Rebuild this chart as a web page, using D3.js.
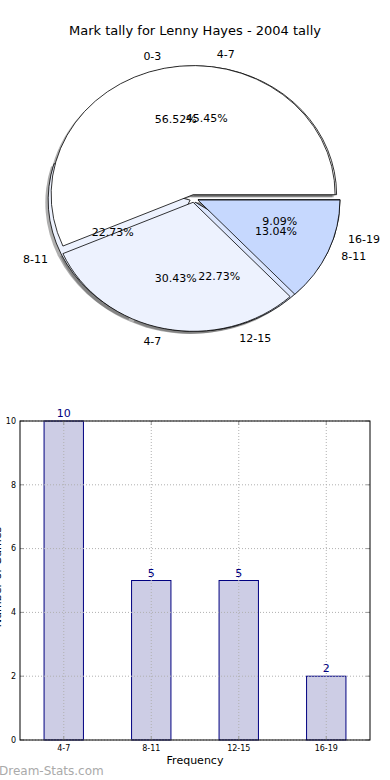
<!DOCTYPE html>
<html>
<head>
  <meta charset="utf-8">
  <title>Mark tally for Lenny Hayes - 2004 tally</title>
  <style>
    body { margin: 0; background: #fff; }
    svg { display: block; font-family: "DejaVu Sans", sans-serif; }
  </style>
</head>
<body>
  <svg width="390" height="780"></svg>

  <script src="https://d3js.org/d3.v7.min.js"></script>
  <script>
    // pie 1 (drawn on top)
    var pieALabels = ['0-3', '4-7', '8-11'];
    var pieAValues = [13, 7, 3];
    // pie 2 (underneath)
    var pieBLabels = ['4-7', '8-11', '12-15', '16-19'];
    var pieBValues = [10, 5, 5, 2];

    // bar chart
    var barCategories = ['4-7', '8-11', '12-15', '16-19'];
    var barValues = [10, 5, 5, 2];
    var yTicks = [0, 2, 4, 6, 8, 10];

    var svg = d3.select('svg');

    svg.append('text')
      .attr('x', 195).attr('y', 35)
      .attr('text-anchor', 'middle')
      .style('font-size', '13px')
      .text('Mark tally for Lenny Hayes - 2004 tally');

    // ---- pie (elliptical, matplotlib style: starts at 3 o'clock, counter-clockwise)
    var cx = 194, cy = 198.5, rx = 142, ry = 129;
    var explode = 0.03;

    var pie = d3.pie().sort(null)
      .startAngle(Math.PI / 2)
      .endAngle(Math.PI / 2 - 2 * Math.PI);
    var arc = d3.arc().innerRadius(0).outerRadius(1);

    function slices(values, labels, colors) {
      var total = d3.sum(values);
      return pie(values).map(function(d, i) {
        var mid = (d.startAngle + d.endAngle) / 2;
        var ux = Math.sin(mid), uy = -Math.cos(mid);
        return {
          arc: d,
          label: labels[i],
          pct: (values[i] / total * 100).toFixed(2) + '%',
          color: colors[i],
          ux: ux, uy: uy,
          ox: cx + explode * rx * ux,
          oy: cy + explode * ry * uy
        };
      });
    }

    var sliceA = slices(pieAValues, pieALabels, ['#ffffff', '#edf2fe', '#c6d8fe']);
    var sliceB = slices(pieBValues, pieBLabels, ['#ffffff', '#edf2fe', '#dbe6fe', '#c6d8fe']);

    var pieG = svg.append('g');

    function drawShadows(data) {
      pieG.selectAll(null).data(data).enter().append('path')
        .attr('transform', function(d) {
          return 'translate(' + (d.ox - 0.02 * rx) + ',' + (d.oy + 0.02 * ry) + ') scale(' + rx + ',' + ry + ')';
        })
        .attr('d', function(d) { return arc(d.arc); })
        .attr('fill', '#4d4d4d')
        .attr('fill-opacity', 0.45);
    }

    function drawWedges(data) {
      pieG.selectAll(null).data(data).enter().append('path')
        .attr('transform', function(d) {
          return 'translate(' + d.ox + ',' + d.oy + ') scale(' + rx + ',' + ry + ')';
        })
        .attr('d', function(d) { return arc(d.arc); })
        .attr('fill', function(d) { return d.color; })
        .attr('stroke', '#000')
        .attr('stroke-width', 0.8)
        .attr('stroke-linejoin', 'round')
        .attr('vector-effect', 'non-scaling-stroke');
    }

    function drawTexts(data) {
      pieG.selectAll(null).data(data).enter().append('text')
        .attr('x', function(d) { return d.ox + 1.1 * rx * d.ux; })
        .attr('y', function(d) { return d.oy + 1.1 * ry * d.uy; })
        .attr('dy', '0.35em')
        .attr('text-anchor', function(d) { return d.ux < 0 ? 'end' : 'start'; })
        .style('font-size', '11px')
        .text(function(d) { return d.label; });

      pieG.selectAll(null).data(data).enter().append('text')
        .attr('x', function(d) { return d.ox + 0.6 * rx * d.ux; })
        .attr('y', function(d) { return d.oy + 0.6 * ry * d.uy; })
        .attr('dy', '0.35em')
        .attr('text-anchor', 'middle')
        .style('font-size', '11px')
        .text(function(d) { return d.pct; });
    }

    drawShadows(sliceB);
    drawShadows(sliceA);
    drawWedges(sliceB);
    drawWedges(sliceA);
    drawTexts(sliceA);
    drawTexts(sliceB);

    // ---- bar chart
    var plotL = 20, plotR = 370, plotT = 421, plotB = 740;

    var x = d3.scalePoint().domain(barCategories).range([plotL, plotR]).padding(0.5);
    var y = d3.scaleLinear().domain([0, 10]).range([plotB, plotT]);
    var barW = x.step() * 0.45;

    svg.append('g').selectAll('rect').data(barValues).enter().append('rect')
      .attr('x', function(d, i) { return x(barCategories[i]) - barW / 2; })
      .attr('y', function(d) { return y(d); })
      .attr('width', barW)
      .attr('height', function(d) { return y(0) - y(d); })
      .attr('fill', '#cdcde5')
      .attr('stroke', '#000080')
      .attr('stroke-width', 1);

    var grid = svg.append('g')
      .attr('stroke', '#b0b0b0')
      .attr('stroke-dasharray', '1,2');
    grid.selectAll(null).data(yTicks).enter().append('line')
      .attr('x1', plotL).attr('x2', plotR)
      .attr('y1', function(d) { return y(d); })
      .attr('y2', function(d) { return y(d); });
    grid.selectAll(null).data(barCategories).enter().append('line')
      .attr('y1', plotT).attr('y2', plotB)
      .attr('x1', function(d) { return x(d); })
      .attr('x2', function(d) { return x(d); });

    svg.append('g').selectAll('text').data(barValues).enter().append('text')
      .attr('x', function(d, i) { return x(barCategories[i]); })
      .attr('y', function(d) { return y(d) - 4; })
      .attr('text-anchor', 'middle')
      .attr('fill', '#000080')
      .style('font-size', '11px')
      .text(function(d) { return d; });

    // small ticks
    var ticks = svg.append('g').attr('stroke', '#999');
    yTicks.forEach(function(t) {
      ticks.append('line').attr('x1', plotL).attr('x2', plotL + 4).attr('y1', y(t)).attr('y2', y(t));
      ticks.append('line').attr('x1', plotR - 4).attr('x2', plotR).attr('y1', y(t)).attr('y2', y(t));
    });
    barCategories.forEach(function(c) {
      ticks.append('line').attr('x1', x(c)).attr('x2', x(c)).attr('y1', plotB).attr('y2', plotB - 4);
      ticks.append('line').attr('x1', x(c)).attr('x2', x(c)).attr('y1', plotT).attr('y2', plotT + 4);
    });

    svg.append('rect')
      .attr('x', plotL).attr('y', plotT)
      .attr('width', plotR - plotL).attr('height', plotB - plotT)
      .attr('fill', 'none')
      .attr('stroke', '#000')
      .attr('stroke-width', 1);

    svg.append('g').selectAll('text').data(yTicks).enter().append('text')
      .attr('x', plotL - 4)
      .attr('y', function(d) { return y(d); })
      .attr('dy', '0.35em')
      .attr('text-anchor', 'end')
      .style('font-size', '8px')
      .text(function(d) { return d; });

    svg.append('g').selectAll('text').data(barCategories).enter().append('text')
      .attr('x', function(d) { return x(d); })
      .attr('y', plotB + 11)
      .attr('text-anchor', 'middle')
      .style('font-size', '8px')
      .text(function(d) { return d; });

    svg.append('text')
      .attr('x', 195).attr('y', 764)
      .attr('text-anchor', 'middle')
      .style('font-size', '11px')
      .text('Frequency');

    svg.append('text')
      .attr('transform', 'translate(1,577) rotate(-90)')
      .attr('text-anchor', 'middle')
      .style('font-size', '11px')
      .text('Number of Games');

    svg.append('text')
      .attr('x', -1).attr('y', 775)
      .attr('fill', '#aaa')
      .style('font-size', '12px')
      .text('Dream-Stats.com');
  </script>
</body>
</html>
